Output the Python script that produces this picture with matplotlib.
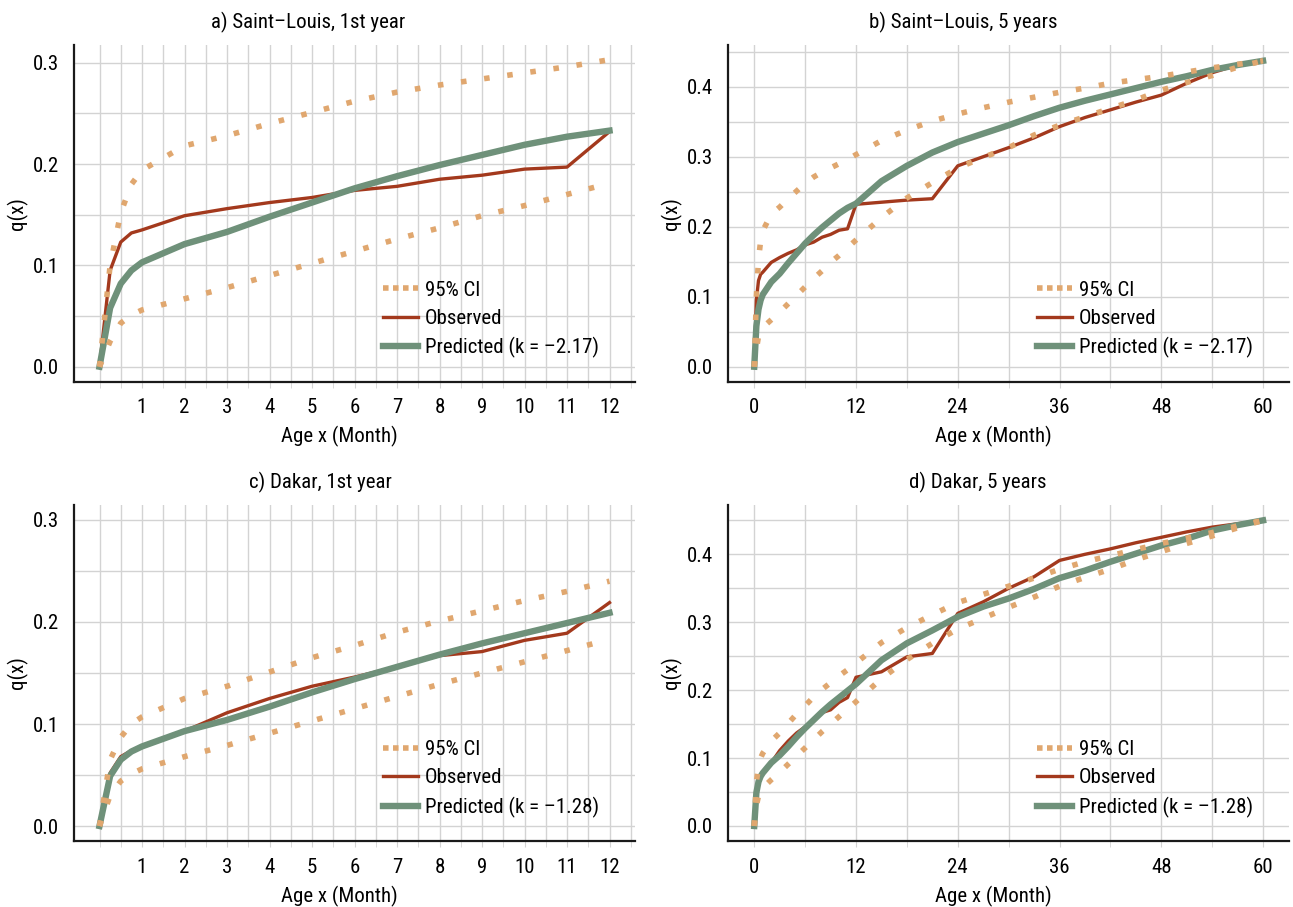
import matplotlib
matplotlib.use("Agg")
import matplotlib.pyplot as plt
from matplotlib.lines import Line2D
from matplotlib import font_manager
from matplotlib.font_manager import FontProperties
from matplotlib.textpath import TextPath

# ages in months
age_year = [0, 0.25, 0.5, 0.75, 1, 2, 3, 4, 5, 6, 7, 8, 9, 10, 11, 12]
age_tail = [15, 18, 21, 24, 27, 30, 33, 36, 39, 42, 45, 48, 51, 54, 57, 60]

# Saint-Louis, first year
sl_obs = [0.0, 0.095, 0.123, 0.132, 0.135, 0.149, 0.156, 0.162, 0.167, 0.174,
          0.178, 0.185, 0.189, 0.195, 0.197, 0.232]
sl_pred = [0.0, 0.058, 0.082, 0.095, 0.103, 0.121, 0.133, 0.148, 0.162, 0.176,
           0.188, 0.199, 0.209, 0.219, 0.227, 0.233]
sl_hi = [0.0, 0.100, 0.152, 0.180, 0.194, 0.218, 0.228, 0.240, 0.251, 0.262,
         0.271, 0.278, 0.284, 0.290, 0.296, 0.303]
sl_lo = [0.0, 0.025, 0.043, 0.051, 0.056, 0.067, 0.078, 0.090, 0.102, 0.114,
         0.126, 0.137, 0.149, 0.159, 0.170, 0.181]
# Saint-Louis, months 15..60
sl_obs_tail = [0.235, 0.238, 0.240, 0.287, 0.300, 0.313, 0.327, 0.343, 0.356,
               0.367, 0.378, 0.388, 0.405, 0.420, 0.431, 0.437]
sl_pred_tail = [0.265, 0.287, 0.306, 0.321, 0.333, 0.345, 0.358, 0.370, 0.380,
                0.389, 0.398, 0.407, 0.415, 0.424, 0.431, 0.437]
sl_hi_tail = [0.323, 0.338, 0.351, 0.361, 0.370, 0.378, 0.385, 0.392, 0.398,
              0.405, 0.410, 0.415, 0.421, 0.427, 0.432, 0.437]
sl_lo_tail = [0.213, 0.241, 0.263, 0.284, 0.299, 0.313, 0.331, 0.345, 0.357,
              0.369, 0.381, 0.395, 0.406, 0.416, 0.428, 0.437]

# Dakar, first year
dk_obs = [0.0, 0.052, 0.068, 0.074, 0.078, 0.093, 0.111, 0.125, 0.137, 0.146,
          0.156, 0.167, 0.171, 0.182, 0.189, 0.219]
dk_pred = [0.0, 0.049, 0.065, 0.073, 0.078, 0.093, 0.104, 0.117, 0.131, 0.144,
           0.156, 0.168, 0.179, 0.189, 0.199, 0.209]
dk_hi = [0.0, 0.065, 0.087, 0.100, 0.107, 0.125, 0.137, 0.151, 0.165, 0.177,
         0.190, 0.201, 0.211, 0.221, 0.230, 0.240]
dk_lo = [0.0, 0.030, 0.044, 0.051, 0.056, 0.068, 0.079, 0.091, 0.103, 0.115,
         0.127, 0.139, 0.150, 0.161, 0.172, 0.183]
# Dakar, months 15..60
dk_obs_tail = [0.227, 0.249, 0.254, 0.313, 0.330, 0.350, 0.367, 0.391, 0.400,
               0.408, 0.417, 0.425, 0.433, 0.440, 0.445, 0.450]
dk_pred_tail = [0.244, 0.269, 0.288, 0.308, 0.323, 0.335, 0.349, 0.365, 0.376,
                0.389, 0.401, 0.413, 0.423, 0.435, 0.443, 0.450]
dk_hi_tail = [0.270, 0.292, 0.311, 0.329, 0.341, 0.353, 0.365, 0.378, 0.389,
              0.398, 0.407, 0.416, 0.424, 0.432, 0.442, 0.450]
dk_lo_tail = [0.217, 0.245, 0.269, 0.290, 0.306, 0.322, 0.337, 0.353, 0.366,
              0.378, 0.392, 0.404, 0.416, 0.427, 0.439, 0.450]

titles = ["a) Saint–Louis, 1st year", "b) Saint–Louis, 5 years",
          "c) Dakar, 1st year", "d) Dakar, 5 years"]
k_labels = ["Predicted (k = –2.17)", "Predicted (k = –1.28)"]

year_ticks = [1, 2, 3, 4, 5, 6, 7, 8, 9, 10, 11, 12]
year_grid = [i * 0.5 for i in range(26)]
five_ticks = [0, 12, 24, 36, 48, 60]
five_grid = list(range(0, 61, 6))

RED = '#a3391d'
GREEN = '#6f917a'
TAN = '#e0a76f'
GRID = '#d3d3d3'

W, H = 1293, 907

# pick the narrowest font available (reference uses a condensed face)
fonts = font_manager.fontManager.ttflist
names = {f.name for f in fonts}
family, stretch = 'DejaVu Sans', 'normal'
for cand in ['Roboto Condensed', 'Liberation Sans Narrow', 'Open Sans Condensed',
             'Noto Sans Condensed', 'DejaVu Sans Condensed']:
    if cand in names:
        family = cand
        break
else:
    if any(f.name == 'DejaVu Sans' and 'condensed' in str(f.stretch) for f in fonts):
        stretch = 'condensed'
    elif 'Roboto' in names:
        family = 'Roboto'
    elif 'Liberation Sans' in names:
        family = 'Liberation Sans'

plt.rcParams['font.family'] = [family, 'DejaVu Sans']
plt.rcParams['font.stretch'] = stretch

# size text so "Age x (Month)" is about as wide as in the reference
w10 = TextPath((0, 0), "Age x (Month)", size=10,
               prop=FontProperties(family=family, stretch=stretch)).get_extents().width
FS = min(15.0, 10 * 118 / (w10 * 100 / 72))
plt.rcParams['font.size'] = FS
fs_px = FS * 100 / 72


def rect(l, r, t, b):
    return [l / W, 1 - b / H, (r - l) / W, (b - t) / H]


def panel(ax, x, obs, pred, lo, hi, title, klab, xlim, ylim,
          xticks, xgrid, ymax, title_x):
    ax.plot(x, obs, color=RED, lw=2.4, zorder=3)
    ax.plot(x, pred, color=GREEN, lw=4.6, zorder=4)
    for ci in (lo, hi):
        ax.plot(x, ci, color=TAN, lw=4.0, dashes=(1, 3.2), zorder=5)

    ax.set_xlim(*xlim)
    ax.set_ylim(*ylim)
    ax.set_xticks(xticks)
    ax.set_xticks(xgrid, minor=True)
    yt = [i / 10 for i in range(int(ymax * 10 + 1e-9) + 1)]
    ax.set_yticks(yt, [f"{v:.1f}" for v in yt])
    ax.set_yticks([i * 0.05 for i in range(int(round(ymax / 0.05)) + 1)], minor=True)
    ax.grid(True, which='both', color=GRID, lw=1.0)
    ax.set_axisbelow(True)
    ax.tick_params(axis='x', which='both', length=4, color=GRID, pad=8)
    ax.tick_params(axis='y', which='both', length=0, pad=11)
    for s in ('top', 'right'):
        ax.spines[s].set_visible(False)
    for s in ('left', 'bottom'):
        ax.spines[s].set_linewidth(1.6)
        ax.spines[s].set_color('#1a1a1a')

    hpx = ax.get_position().height * H
    wpx = ax.get_position().width * W
    ax.set_xlabel("Age x (Month)")
    ax.xaxis.label.set_va('center')
    ax.xaxis.set_label_coords(0.473, -55 / hpx)
    ax.set_ylabel("q(x)")
    ax.yaxis.label.set_va('center')
    ax.yaxis.set_label_coords(-57 / wpx, 0.5)
    ax.text(title_x, 1 + 23 / hpx, title, transform=ax.transAxes,
            ha='center', va='center')

    handles = [
        Line2D([], [], color=TAN, lw=4.0, dashes=(1, 0.8)),
        Line2D([], [], color=RED, lw=2.4),
        Line2D([], [], color=GREEN, lw=4.6),
    ]
    ax.legend(handles, ["95% CI", "Observed", klab], loc='center left',
              bbox_to_anchor=(0.551, 0.185), frameon=False, borderpad=0,
              borderaxespad=0, handlelength=35 / fs_px,
              handletextpad=7 / fs_px,
              labelspacing=max(0.2, 33.5 / fs_px - 1.17))


fig = plt.figure(figsize=(W / 100, H / 100), dpi=100)

ax_a = fig.add_axes(rect(74, 635, 45, 381.7))
ax_b = fig.add_axes(rect(728.3, 1289, 45, 381.7))
ax_c = fig.add_axes(rect(74, 635, 505, 841))
ax_d = fig.add_axes(rect(728.3, 1289, 505, 841))

age_five = age_year + age_tail

panel(ax_a, age_year, sl_obs, sl_pred, sl_lo, sl_hi, titles[0], k_labels[0],
      (-0.6, 12.6), (-0.0148, 0.3175), year_ticks, year_grid, 0.3, 0.417)
panel(ax_b, age_five, sl_obs + sl_obs_tail, sl_pred + sl_pred_tail,
      sl_lo + sl_lo_tail, sl_hi + sl_hi_tail, titles[1], k_labels[0],
      (-3.06, 63.06), (-0.0214, 0.4596), five_ticks, five_grid, 0.45, 0.4195)
panel(ax_c, age_year, dk_obs, dk_pred, dk_lo, dk_hi, titles[2], k_labels[1],
      (-0.6, 12.6), (-0.0147, 0.3147), year_ticks, year_grid, 0.3, 0.4385)
panel(ax_d, age_five, dk_obs + dk_obs_tail, dk_pred + dk_pred_tail,
      dk_lo + dk_lo_tail, dk_hi + dk_hi_tail, titles[3], k_labels[1],
      (-3.06, 63.06), (-0.0221, 0.4726), five_ticks, five_grid, 0.45, 0.444)

fig.savefig("out.png", dpi=100)
